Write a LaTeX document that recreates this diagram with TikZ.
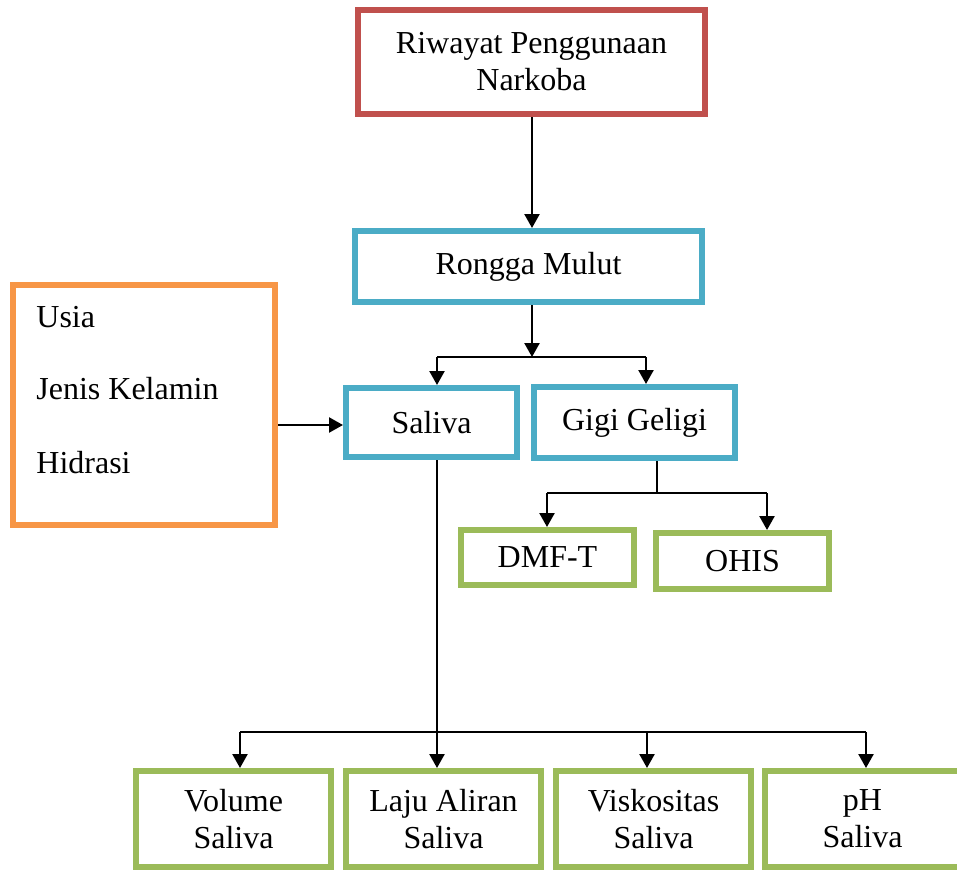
\documentclass[tikz,border=0pt]{standalone}
\usepackage{fontspec}
\setmainfont{Liberation Serif}
\usetikzlibrary{arrows.meta,positioning}
\definecolor{boxred}{HTML}{C0504D}
\definecolor{boxblue}{HTML}{4BACC6}
\definecolor{boxorange}{HTML}{F79646}
\definecolor{boxgreen}{HTML}{9BBB59}

\begin{document}
\begin{tikzpicture}[
  x=0.5pt, y=-0.5pt,
  font=\fontsize{16}{18.5}\selectfont,
  blk/.style={rectangle, line width=3pt, align=center, fill=white, inner sep=0pt},
  hasil/.style={blk, draw=boxgreen, minimum width=97.5pt, minimum height=48pt},
  arr/.style={-{Triangle[length=7pt,width=7.5pt]}, line width=1.2pt, black},
  ln/.style={line width=1.2pt, black}
]
\useasboundingbox (0,0) rectangle (957,872);

\node[blk, draw=boxred, minimum width=173.5pt, minimum height=52pt] (riwayat) at (531.5,62) {Riwayat Penggunaan\\Narkoba};
\node[blk, draw=boxblue, minimum width=173.5pt, minimum height=35.5pt] (rongga) at (528.5,266.5) {Rongga Mulut};
\node[blk, draw=boxblue, minimum width=85.5pt, minimum height=34.5pt] (saliva) at (431.5,422.5) {Saliva};
\node[blk, draw=boxblue, minimum width=100.5pt, minimum height=35.5pt, right=5.5pt of saliva] (gigi) {Gigi Geligi};
\node[blk, draw=boxorange, minimum width=131pt, minimum height=120pt] (faktor) at (144,405) {};
\node[anchor=base west, inner sep=0pt] (usia) at (36,327) {Usia};
\node[anchor=base west, inner sep=0pt] (jenis) at (36,399) {Jenis Kelamin};
\node[anchor=base west, inner sep=0pt] (hidrasi) at (36,473) {Hidrasi};
\node[blk, draw=boxgreen, minimum width=86.5pt, minimum height=27.5pt] (dmft) at (547.5,557.5) {DMF-T};
\node[blk, draw=boxgreen, minimum width=86.5pt, minimum height=28pt] (ohis) at (742.5,561) {OHIS};

% baris bawah
\node[hasil] (volume) at (233.5,819) {Volume\\Saliva};
\node[hasil, right=4.5pt of volume] (laju) {Laju Aliran\\Saliva};
\node[hasil, right=4.5pt of laju] (visko) {Viskositas\\Saliva};
\node[hasil, right=4pt of visko] (ph) {pH\\Saliva};

\coordinate (j1) at (532,357);
\coordinate (j1s) at (437,357);
\coordinate (j1g) at (646,357);
\coordinate (j2) at (657,493);
\coordinate (j2d) at (547,493);
\coordinate (j2o) at (767,493);
\coordinate (j3v) at (240,732);
\coordinate (j3s) at (437,732);
\coordinate (j3k) at (647,732);
\coordinate (j3p) at (866,732);

\draw[arr] (riwayat.south -| j1) -- (j1 |- rongga.north);
\draw[arr] (j1 |- rongga.south) -- (j1);
\draw[ln] (j1s) -- (j1g);
\draw[arr] (j1s) -- (j1s |- saliva.north);
\draw[arr] (j1g) -- (j1g |- gigi.north);
\draw[arr] (faktor.east |- 0,425) -- (saliva.west |- 0,425);
\draw[ln] (j2 |- gigi.south) -- (j2);
\draw[ln] (j2d) -- (j2o);
\draw[arr] (j2d) -- (j2d |- dmft.north);
\draw[arr] (j2o) -- (j2o |- ohis.north);
\draw[arr] (j1s |- saliva.south) -- (j1s |- laju.north);
\draw[ln] (j3v) -- (j3p);
\draw[arr] (j3v) -- (j3v |- volume.north);
\draw[arr] (j3k) -- (j3k |- visko.north);
\draw[arr] (j3p) -- (j3p |- ph.north);
\end{tikzpicture}
\end{document}
